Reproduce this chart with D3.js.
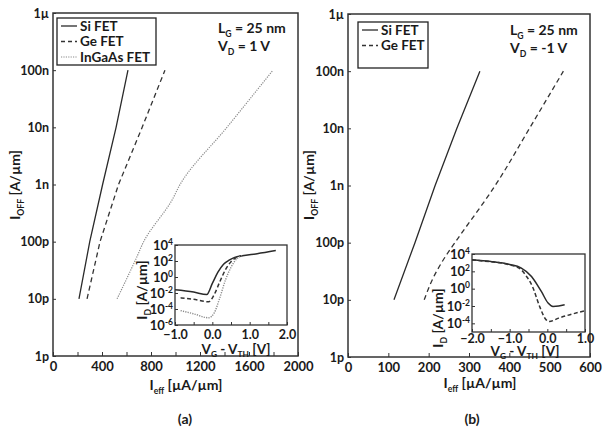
<!DOCTYPE html>
<html>
<head>
<meta charset="utf-8">
<script src="https://cdn.jsdelivr.net/npm/d3@7"></script>
<style>
    body { margin: 0; background: #fff; }
    svg { display: block; }
    text { font-family: Lato, "Open Sans", sans-serif; fill: #1a1a1a; font-weight: bold; }
</style>
</head>
<body>
<svg id="chart" width="604" height="435"></svg>
<script>
// off-current axis (shared by both panels)
var offValues = [1e-12, 1e-11, 1e-10, 1e-9, 1e-8, 1e-7, 1e-6];
var offLabels = ["1p", "10p", "100p", "1n", "10n", "100n", "1\u00b5"];

// (a) VD = 1 V : [Ieff uA/um, Ioff A/um]
var aSi = [[212, 1e-11], [300, 1e-10], [405, 1e-9], [515, 1e-8], [612, 1e-7]];
var aGe = [[278, 1e-11], [384, 1e-10], [535, 1e-9], [728, 1e-8], [914, 1e-7]];
var aInGaAs = [[523, 1e-11], [686, 5.5e-11], [740, 1e-10], [975, 5.5e-10], [1037, 1e-9], [1420, 1e-8], [1796, 1e-7]];

// (b) VD = -1 V
var bSi = [[114, 1e-11], [166, 1e-10], [216, 1e-9], [270, 1e-8], [327, 1e-7]];
var bGe = [[189, 1e-11], [211, 2.4e-11], [246, 6.4e-11], [265, 1e-10], [365, 1e-9], [450, 1e-8], [534, 1e-7]];

// insets : [VG - VTH, ID]
var inASi = [[-1.0, 2.5e-2], [-0.5, 1.3e-2], [-0.15, 6.3e-3], [0.0, 0.16], [0.15, 4], [0.3, 40], [0.45, 126], [0.6, 280], [0.8, 450], [1.2, 800], [1.7, 2000]];
var inAGe = [[-0.85, 2.5e-3], [-0.5, 1.6e-3], [-0.1, 8e-4], [0.05, 6.3e-3], [0.2, 0.25], [0.35, 8], [0.5, 80], [0.65, 280], [0.8, 450]];
var inAInGaAs = [[-0.85, 6.3e-5], [-0.5, 2.5e-5], [-0.1, 8e-6], [0.05, 3.2e-5], [0.2, 2.5e-3], [0.35, 0.4], [0.5, 16], [0.65, 180], [0.8, 450]];
var inBSi = [[-2.0, 2200], [-1.5, 1400], [-1.0, 630], [-0.7, 250], [-0.42, 26], [-0.16, 0.48], [0.02, 2.2e-2], [0.15, 9e-3], [0.3, 1e-2], [0.46, 1.4e-2]];
var inBGe = [[-2.0, 2000], [-1.5, 1260], [-1.0, 560], [-0.7, 160], [-0.55, 25], [-0.4, 2], [-0.2, 7.9e-3], [-0.05, 3.2e-4], [0.05, 1.6e-4], [0.3, 4e-4], [0.6, 1e-3], [1.0, 2.8e-3]];

var styles = {
    si: { stroke: "#2a2a2a", dash: null, width: 1.3 },
    ge: { stroke: "#333", dash: "5,3.5", width: 1.3 },
    ingaas: { stroke: "#8a8a8a", dash: "1.2,1.2", width: 1.2 }
};

var svg = d3.select("#chart");

// text with sub/superscripts, parts = [[str, "sub"|"sup"|null], ...]
function richText(g, x, y, parts, size, anchor, rotate) {
    var t = g.append("text")
        .attr("x", x).attr("y", y)
        .attr("font-size", size)
        .attr("text-anchor", anchor || "start");
    if (rotate) t.attr("transform", "rotate(-90," + x + "," + y + ")");
    var shift = 0;
    parts.forEach(function (p) {
        var s = t.append("tspan").text(p[0]);
        var want = p[1] == "sub" ? size * 0.25 : p[1] == "sup" ? -size * 0.4 : 0;
        if (want != shift) s.attr("dy", want - shift);
        shift = want;
        if (p[1]) s.attr("font-size", size * 0.62);
    });
    return t;
}

function drawLine(g, data, x, y, st, curve) {
    g.append("path")
        .datum(data)
        .attr("fill", "none")
        .attr("stroke", st.stroke)
        .attr("stroke-width", st.width)
        .attr("stroke-dasharray", st.dash)
        .attr("d", d3.line()
            .x(function (d) { return x(d[0]); })
            .y(function (d) { return y(d[1]); })
            .curve(curve || d3.curveLinear));
}

function IoffPanel(cfg) {
    var self = this;
    self.cfg = cfg;
    self.init();
}

IoffPanel.prototype.init = function () {
    var self = this, c = self.cfg;
    self.g = svg.append("g");

    self.x = d3.scaleLinear().domain([0, c.xmax]).range([c.x0, c.x1]);
    self.y = d3.scaleLog().domain([1e-12, 1e-6]).range([c.y1, c.y0]);

    var xAxis = d3.axisBottom(self.x)
        .tickValues(d3.range(0, c.xmax + 1, c.xstep))
        .tickSizeInner(-4).tickSizeOuter(0).tickPadding(6)
        .tickFormat(function (d) { return d % c.xlabel == 0 ? d : ""; });
    var gx = self.g.append("g").attr("transform", "translate(0," + c.y1 + ")").call(xAxis);
    gx.selectAll("text").attr("font-size", 13).attr("font-family", "Lato").attr("fill", "#1a1a1a");

    var yAxis = d3.axisLeft(self.y)
        .tickValues(offValues)
        .tickSizeInner(-3).tickSizeOuter(0).tickPadding(4)
        .tickFormat(function (d, i) { return offLabels[i]; });
    var gy = self.g.append("g").attr("transform", "translate(" + c.x0 + ",0)").call(yAxis);
    gy.selectAll("text").attr("font-size", 12.5).attr("font-family", "Lato").attr("fill", "#1a1a1a");

    self.g.selectAll(".domain").remove();
    self.g.selectAll(".tick line").attr("stroke", "#333");

    self.g.append("rect")
        .attr("x", c.x0).attr("y", c.y0)
        .attr("width", c.x1 - c.x0).attr("height", c.y1 - c.y0)
        .attr("fill", "none").attr("stroke", "#333").attr("stroke-width", 1.5);

    richText(self.g, c.yTitle[0], c.yTitle[1], [["I", null], ["OFF", "sub"], [" [A/\u00b5m]", null]], 14, "middle", true);
    richText(self.g, c.xTitle[0], c.xTitle[1], [["I", null], ["eff", "sub"], [" [\u00b5A/\u00b5m]", null]], 14, "middle");
    self.g.append("text").attr("x", c.tag[0]).attr("y", c.tag[1])
        .attr("text-anchor", "middle").attr("font-size", 14).attr("font-weight", "normal")
        .text(c.tagText);

    richText(self.g, c.note[0], c.note[1], [["L", null], ["G", "sub"], [" = 25 nm", null]], 14, "start");
    richText(self.g, c.note[0], c.note[1] + 18, [["V", null], ["D", "sub"], [c.vd, null]], 14, "start");
};

IoffPanel.prototype.update = function (series) {
    var self = this, c = self.cfg;
    series.forEach(function (s) {
        drawLine(self.g, s.data, self.x, self.y, styles[s.key], s.curve);
    });

    // legend
    var L = c.legend;
    self.g.append("rect")
        .attr("x", L[0]).attr("y", L[1]).attr("width", L[2]).attr("height", L[3])
        .attr("fill", "#fff").attr("stroke", "#222").attr("stroke-width", 1.3);
    series.forEach(function (s, i) {
        var yy = L[1] + 8 + i * 15.5;
        var st = styles[s.key];
        self.g.append("line")
            .attr("x1", L[0] + 4).attr("x2", L[0] + 20).attr("y1", yy).attr("y2", yy)
            .attr("stroke", st.stroke).attr("stroke-width", st.width)
            .attr("stroke-dasharray", s.key == "ge" ? "4,3" : st.dash);
        self.g.append("text")
            .attr("x", L[0] + 23).attr("y", yy + 4.5)
            .attr("font-size", 13.5)
            .text(s.name);
    });
};

IoffPanel.prototype.inset = function (ic, series) {
    var self = this;
    var g = self.g.append("g");
    var x = d3.scaleLinear().domain(ic.xdom).range([ic.box[0], ic.box[2]]);
    var y = d3.scaleLog().domain(ic.ydom).range([ic.box[3], ic.box[1]]);

    g.append("rect")
        .attr("x", ic.box[0]).attr("y", ic.box[1])
        .attr("width", ic.box[2] - ic.box[0]).attr("height", ic.box[3] - ic.box[1])
        .attr("fill", "#fff");

    var xAxis = d3.axisBottom(x)
        .tickValues(d3.range(ic.xdom[0], ic.xdom[1] + 0.01, 0.5))
        .tickSizeInner(-3).tickSizeOuter(0).tickPadding(ic.xpad)
        .tickFormat(function (d) { return Math.abs(d % 1) < 0.01 ? d3.format(".1f")(d) : ""; });
    var gx = g.append("g").attr("transform", "translate(0," + ic.box[3] + ")").call(xAxis);
    gx.selectAll("text").attr("font-size", 12.5).attr("font-family", "Lato").attr("fill", "#1a1a1a");

    var yAxis = d3.axisLeft(y)
        .tickValues(ic.yticks)
        .tickSizeInner(-3).tickSizeOuter(0).tickPadding(2)
        .tickFormat(function () { return ""; });
    var gy = g.append("g").attr("transform", "translate(" + ic.box[0] + ",0)").call(yAxis);
    gy.selectAll(".tick text").each(function (d) {
        var t = d3.select(this).attr("font-size", 13).attr("font-family", "Lato").attr("fill", "#1a1a1a");
        t.append("tspan").text("10");
        t.append("tspan").attr("dy", -5).attr("font-size", 8.5).text(Math.round(Math.log10(d)));
    });
    g.selectAll(".domain").remove();
    g.selectAll(".tick line").attr("stroke", "#333");

    series.forEach(function (s) {
        var st = Object.assign({}, styles[s.key]);
        st.width = st.width + 0.2;
        if (s.key == "ge") st.dash = "4,2.5";
        drawLine(g, s.data, x, y, st, d3.curveMonotoneX);
    });

    g.append("rect")
        .attr("x", ic.box[0]).attr("y", ic.box[1])
        .attr("width", ic.box[2] - ic.box[0]).attr("height", ic.box[3] - ic.box[1])
        .attr("fill", "none").attr("stroke", "#333").attr("stroke-width", 1.3);

    richText(g, ic.yTitle[0], ic.yTitle[1], [["I", null], ["D", "sub"], [" [A/\u00b5m]", null]], 14, "middle", true);
    richText(g, ic.xTitle[0], ic.xTitle[1], [["V", null], ["G", "sub"], [" - V", null], ["TH", "sub"], [" [V]", null]], 13.5, "middle");
};

var pa = new IoffPanel({
    x0: 53, x1: 298, y0: 13, y1: 356, xmax: 2000, xstep: 200, xlabel: 400,
    yTitle: [20, 185], xTitle: [186, 390], tag: [185, 424], tagText: "(a)",
    note: [218, 33], vd: " = 1 V",
    legend: [57, 18, 99, 47]
});
pa.update([
    { key: "si", name: "Si FET", data: aSi },
    { key: "ge", name: "Ge FET", data: aGe },
    { key: "ingaas", name: "InGaAs FET", data: aInGaAs, curve: d3.curveMonotoneY }
]);
pa.inset({
    box: [175, 245, 287, 325], xdom: [-1, 2], ydom: [1e-6, 1e4], xpad: 5,
    yticks: [1e-6, 1e-4, 1e-2, 1, 1e2, 1e4],
    yTitle: [147, 290], xTitle: [236, 354]
}, [
    { key: "si", data: inASi },
    { key: "ge", data: inAGe },
    { key: "ingaas", data: inAInGaAs }
]);

var pb = new IoffPanel({
    x0: 348, x1: 590, y0: 14, y1: 357, xmax: 600, xstep: 100, xlabel: 100,
    yTitle: [314, 185], xTitle: [480, 388], tag: [472, 424], tagText: "(b)",
    note: [510, 35], vd: " = -1 V",
    legend: [358, 22, 70, 46]
});
pb.update([
    { key: "si", name: "Si FET", data: bSi },
    { key: "ge", name: "Ge FET", data: bGe, curve: d3.curveMonotoneY }
]);
pb.inset({
    box: [472, 254, 585, 332], xdom: [-2, 1], ydom: [1e-5, 1e4], xpad: 2,
    yticks: [1e-4, 1e-2, 1, 1e2, 1e4],
    yTitle: [443, 318], xTitle: [525, 356]
}, [
    { key: "si", data: inBSi },
    { key: "ge", data: inBGe }
]);
</script>
</body>
</html>
